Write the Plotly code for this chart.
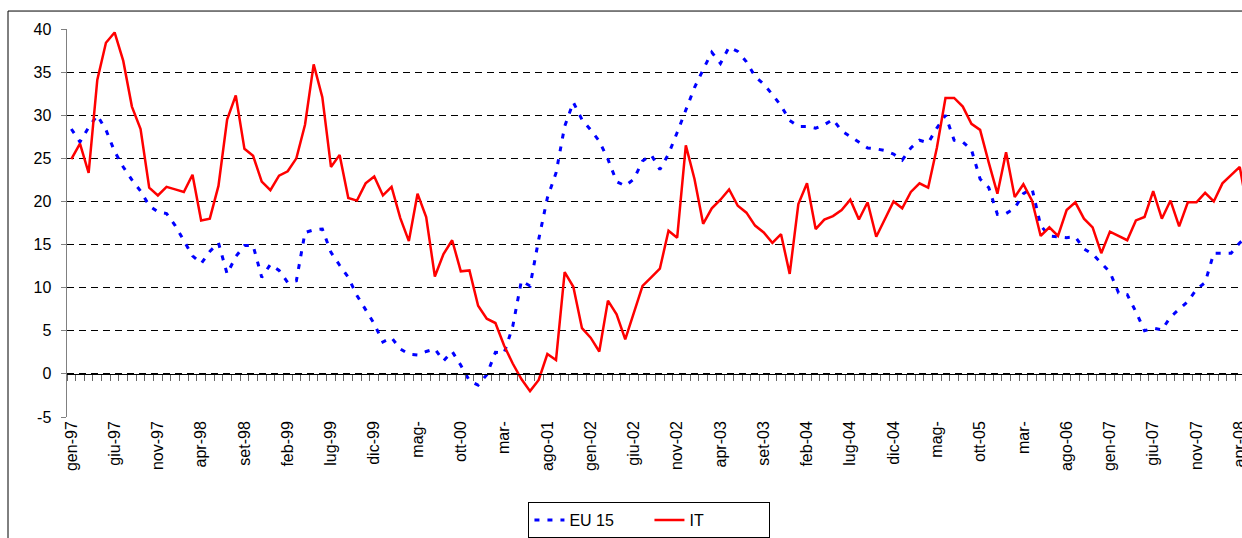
import plotly.graph_objects as go

# Month categories (gen-97 ... mag-08)
month_abbr = ["gen", "feb", "mar", "apr", "mag", "giu", "lug", "ago", "set", "ott", "nov", "dic"]
years = ["97", "98", "99", "00", "01", "02", "03", "04", "05", "06", "07", "08"]
months = [f"{m}-{y}" for y in years for m in month_abbr][:137]

# Tick labels as printed on the chart (every 5th month)
tick_months = months[0:136:5]
tick_text = ["gen-97", "giu-97", "nov-97", "apr-98", "set-98", "feb-99", "lug-99", "dic-99",
             "mag-", "ott-00", "mar-", "ago-01", "gen-02", "giu-02", "nov-02", "apr-03",
             "set-03", "feb-04", "lug-04", "dic-04", "mag-", "ott-05", "mar-", "ago-06",
             "gen-07", "giu-07", "nov-07", "apr-08"]

y_ticks = [-5, 0, 5, 10, 15, 20, 25, 30, 35, 40]
y_tick_text = ["-5", "0", "5", "10", "15", "20", "25", "30", "35", "40"]

eu15 = [28.4, 26.9, 28.6, 30.0, 28.3, 25.8, 24.0, 22.5, 21.2, 19.5,
        18.8, 18.6, 17.2, 15.4, 13.7, 12.8, 14.2, 15.2, 11.6, 13.6,
        14.9, 14.9, 11.2, 12.7, 12.0, 10.6, 10.8, 16.4, 16.7, 16.8,
        14.1, 12.6, 11.2, 9.1, 7.5, 5.8, 3.7, 4.2, 2.9, 2.3,
        2.2, 2.6, 2.9, 1.5, 2.6, 1.0, -0.8, -1.3, -0.1, 2.5,
        2.4, 5.5, 10.8, 10.2, 15.6, 20.4, 23.3, 28.7, 31.5, 29.5,
        28.3, 27.0, 24.9, 22.3, 21.8, 22.6, 24.7, 25.4, 23.7, 25.5,
        28.0, 30.7, 33.2, 35.3, 37.3, 36.0, 37.9, 37.4, 36.2, 34.5,
        33.6, 32.4, 31.1, 29.4, 28.7, 28.7, 28.5, 28.9, 29.5, 28.2,
        27.5, 26.8, 26.2, 26.1, 25.9, 25.5, 24.8, 26.2, 27.1, 26.8,
        28.5, 30.0, 27.1, 26.9, 26.0, 22.6, 21.6, 18.5, 18.6, 19.2,
        20.9, 21.5, 17.2, 16.0, 15.9, 15.8, 15.9, 14.5, 13.9, 12.9,
        11.8, 9.4, 9.2, 7.2, 5.0, 5.3, 5.1, 6.6, 7.5, 8.4,
        9.8, 10.6, 14.0, 14.0, 14.0, 15.2, 16.0]

it = [24.9, 26.7, 23.3, 34.1, 38.4, 39.6, 36.3, 31.0, 28.4, 21.6,
      20.7, 21.7, 21.4, 21.1, 23.1, 17.8, 18.0, 21.8, 29.5, 32.3,
      26.1, 25.3, 22.3, 21.3, 23.0, 23.5, 25.0, 28.9, 35.9, 32.1,
      24.0, 25.4, 20.4, 20.1, 22.1, 22.9, 20.7, 21.7, 18.1, 15.4,
      20.9, 18.2, 11.3, 13.9, 15.5, 11.9, 12.0, 7.9, 6.4, 5.9,
      3.3, 1.2, -0.6, -2.0, -0.7, 2.3, 1.6, 11.8, 10.1, 5.3,
      4.2, 2.6, 8.5, 6.9, 4.0, 7.1, 10.2, 11.2, 12.2, 16.6,
      15.8, 26.5, 22.6, 17.4, 19.2, 20.2, 21.4, 19.5, 18.7, 17.2,
      16.4, 15.2, 16.2, 11.6, 19.7, 22.1, 16.8, 17.9, 18.3, 19.0,
      20.2, 17.9, 19.9, 15.9, 18.0, 20.0, 19.2, 21.1, 22.1, 21.6,
      26.2, 32.0, 32.0, 31.0, 29.0, 28.3, 24.5, 20.9, 25.7, 20.5,
      22.0, 20.1, 16.0, 17.0, 16.0, 19.0, 19.9, 18.0, 17.0, 14.0,
      16.5, 16.0, 15.5, 17.8, 18.2, 21.2, 18.0, 20.1, 17.1, 19.9,
      19.9, 21.0, 20.0, 22.1, 23.0, 24.0, 18.5]

FONT = "Liberation Sans, Arial, sans-serif"
x_range = [-0.5, 135.26]

fig = go.Figure()
fig.add_trace(go.Scatter(x=months, y=eu15, name="EU 15", mode="lines",
                         line=dict(color="#0000FF", width=3, dash="5px,8px"),
                         xaxis="x", yaxis="y"))
fig.add_trace(go.Scatter(x=months, y=it, name="IT", mode="lines",
                         line=dict(color="#FF0000", width=2.5),
                         xaxis="x2", yaxis="y"))

fig.update_layout(
    width=1242, height=538, autosize=False,
    margin=dict(l=67, r=0, t=29, b=120),
    paper_bgcolor="white", plot_bgcolor="white",
    font=dict(family=FONT, size=16, color="black"),
    showlegend=True,
    legend=dict(orientation="h", x=0.4957, xanchor="center", y=-0.2185, yanchor="top",
                bordercolor="black", borderwidth=1, bgcolor="white",
                font=dict(family=FONT, size=16, color="black"),
                itemwidth=30, entrywidth=75, tracegroupgap=0),
    xaxis=dict(type="category", categoryorder="array", categoryarray=months,
               range=x_range, tickmode="array", tickvals=tick_months, ticktext=tick_text,
               tickangle=-90, ticks="", showline=False, showgrid=False, zeroline=False,
               automargin=False,
               tickfont=dict(family=FONT, size=16, color="black")),
    xaxis2=dict(type="category", categoryorder="array", categoryarray=months,
                overlaying="x", anchor="free", position=5 / 45,
                range=x_range, tickmode="array", tickvals=months, tickson="boundaries",
                ticks="outside", ticklen=6, tickcolor="#666666", tickwidth=1,
                showticklabels=False, showline=True, linecolor="black", linewidth=1,
                showgrid=False, zeroline=False, automargin=False),
    yaxis=dict(range=[-5, 40], tickmode="array", tickvals=y_ticks, ticktext=y_tick_text,
               showline=True, linecolor="#808080",
               linewidth=1.5, ticks="outside", ticklen=5, tickcolor="#808080",
               showgrid=True, gridcolor="black", gridwidth=1, griddash="7px,5px",
               zeroline=False, ticklabelstandoff=6, automargin=False,
               tickfont=dict(family=FONT, size=16, color="black")),
    shapes=[dict(type="rect", xref="paper", yref="paper",
                 x0=(8 - 67) / 1175, x1=1.05, y0=-0.5, y1=(418 - 11) / 389,
                 line=dict(color="black", width=1), fillcolor="rgba(0,0,0,0)", layer="below")],
)

fig.write_html("out.html",
               config={"displayModeBar": False, "staticPlot": True},
               post_script="document.body.style.margin='0px';document.body.style.overflow='hidden';")
